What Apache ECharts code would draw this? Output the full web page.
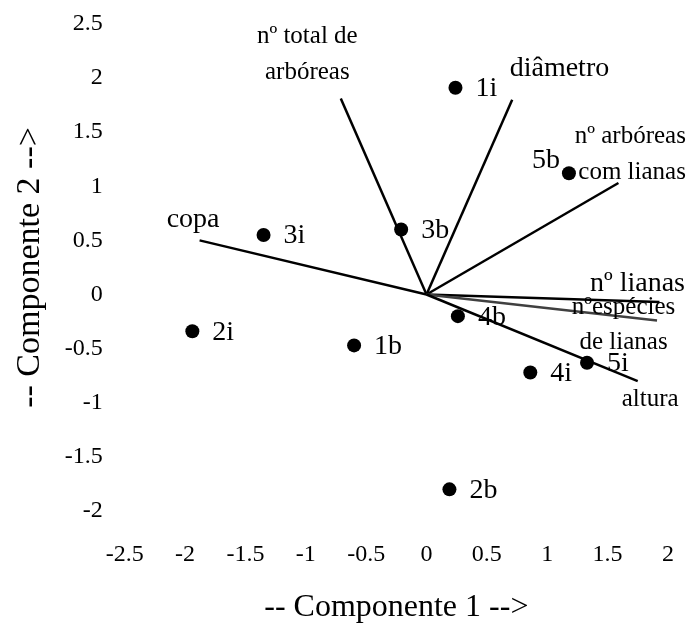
<!DOCTYPE html>
<html>
<head>
<meta charset="utf-8">
<script src="https://cdn.jsdelivr.net/npm/echarts@6/dist/echarts.min.js"></script>
<style>
html,body{margin:0;padding:0;background:#fff;}
#chart{width:688px;height:626px;}
</style>
</head>
<body>
<div id="chart"></div>
<script>
// ---- data ----
const xTicks = [-2.5, -2, -1.5, -1, -0.5, 0, 0.5, 1, 1.5, 2];
const yTicks = [-2, -1.5, -1, -0.5, 0, 0.5, 1, 1.5, 2, 2.5];

const obsNames = ['1i', '5b', '3i', '3b', '2i', '1b', '4b', '4i', '5i', '2b'];
const obsX = [0.24, 1.18, -1.35, -0.21, -1.94, -0.60, 0.26, 0.86, 1.33, 0.19];
const obsY = [1.91, 1.12, 0.55, 0.60, -0.34, -0.47, -0.20, -0.72, -0.63, -1.80];

const varNames = ['nº total de\narbóreas', 'diâmetro', 'nº arbóreas\ncom lianas', 'copa', 'nº lianas', 'nºespécies\nde lianas', 'altura'];
const varX = [-0.71, 0.71, 1.59, -1.88, 1.93, 1.91, 1.75];
const varY = [1.81, 1.80, 1.03, 0.50, -0.07, -0.24, -0.80];

// ---- styles (kept apart from data) ----
const FONT = '"Liberation Serif", "Times New Roman", serif';
const varLineColor = ['#000', '#000', '#000', '#000', '#000', '#404040', '#000'];
const varLabelStyle = [
  { offset: [-33, -44], align: 'center', fontSize: 25, lineHeight: 36 },
  { offset: [-2, -31], align: 'left', fontSize: 28, lineHeight: 30 },
  { offset: [68, -28], align: 'right', fontSize: 25, lineHeight: 36 },
  { offset: [-6, -20], align: 'center', fontSize: 28, lineHeight: 30 },
  { offset: [26, -18], align: 'right', fontSize: 28, lineHeight: 30 },
  { offset: [-33, 5], align: 'center', fontSize: 25, lineHeight: 35 },
  { offset: [13, 19], align: 'center', fontSize: 25, lineHeight: 28 }
];
const obsLabelPos = { '5b': { position: 'left', distance: 2, offset: [0, -13] } };

const series = [];
varNames.forEach((n, i) => {
  series.push({
    type: 'line',
    data: [[0, 0], [varX[i], varY[i]]],
    showSymbol: false,
    symbol: 'none',
    silent: true,
    z: 3,
    lineStyle: { color: varLineColor[i], width: 2.5, opacity: 1 }
  });
});
series.push({
  type: 'scatter',
  symbolSize: 1,
  itemStyle: { color: 'transparent', opacity: 1 },
  silent: true,
  z: 4,
  data: varNames.map((n, i) => {
    const s = varLabelStyle[i];
    return {
      name: n,
      value: [varX[i], varY[i]],
      label: {
        show: true,
        position: [0, 0],
        offset: s.offset,
        align: s.align,
        verticalAlign: 'middle',
        fontSize: s.fontSize,
        lineHeight: s.lineHeight,
        fontFamily: FONT,
        color: '#000',
        opacity: 1,
        formatter: n
      }
    };
  })
});
series.push({
  type: 'scatter',
  symbol: 'circle',
  symbolSize: 14,
  itemStyle: { color: '#000', opacity: 1 },
  z: 2,
  data: obsNames.map((n, i) => {
    const p = obsLabelPos[n] || { position: 'right', distance: 13, offset: [0, 1] };
    return {
      name: n,
      value: [obsX[i], obsY[i]],
      label: {
        show: true,
        position: p.position,
        distance: p.distance,
        offset: p.offset,
        fontSize: 28,
        fontFamily: FONT,
        color: '#000',
        opacity: 1,
        formatter: n
      }
    };
  })
});

const chart = echarts.init(document.getElementById('chart'), null, { renderer: 'canvas' });
chart.setOption({
  animation: false,
  backgroundColor: '#fff',
  textStyle: { fontFamily: FONT },
  grid: { left: 124.75, right: 20.1, top: 23.9, bottom: 115, containLabel: false, outerBoundsMode: 'none' },
  xAxis: {
    type: 'value',
    min: xTicks[0],
    max: xTicks[xTicks.length - 1],
    interval: 0.5,
    axisLine: { show: false },
    axisTick: { show: false },
    splitLine: { show: false },
    axisLabel: { fontSize: 24, fontFamily: FONT, color: '#000', margin: 32, showMinLabel: true, showMaxLabel: true },
    name: '-- Componente 1 -->',
    nameLocation: 'middle',
    nameGap: 81,
    nameTextStyle: { fontSize: 32, fontFamily: FONT, color: '#000' }
  },
  yAxis: {
    type: 'value',
    min: yTicks[0],
    max: yTicks[yTicks.length - 1],
    interval: 0.5,
    axisLine: { show: false },
    axisTick: { show: false },
    splitLine: { show: false },
    axisLabel: { fontSize: 24, fontFamily: FONT, color: '#000', margin: 22, padding: [6, 0, 0, 0], showMinLabel: true, showMaxLabel: true },
    name: '-- Componente 2 -->',
    nameLocation: 'middle',
    nameGap: 78,
    nameTextStyle: { fontSize: 34, fontFamily: FONT, color: '#000' }
  },
  series: series
});
</script>
</body>
</html>
